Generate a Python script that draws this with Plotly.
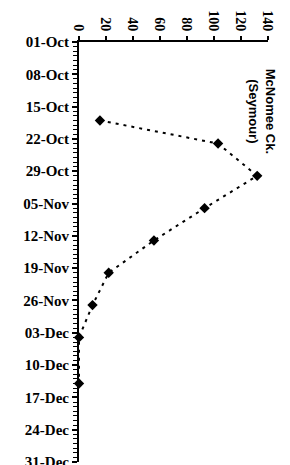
import plotly.graph_objects as go

dates = ["1999-10-18", "1999-10-23", "1999-10-30", "1999-11-06", "1999-11-13",
         "1999-11-20", "1999-11-27", "1999-12-04", "1999-12-14"]
values = [15.5, 103, 132, 93, 55.5, 22, 10, 0, 0]
title_text = "McNomee Ck.<br>(Seymour)"

font_family = "Liberation Serif"

fig = go.Figure()
fig.add_trace(go.Scatter(
    x=values, y=dates, mode="lines+markers",
    line=dict(color="black", width=2, dash="3px,5px"),
    marker=dict(symbol="diamond", size=8, color="black"),
    cliponaxis=False, showlegend=False,
))

fig.update_layout(
    width=290, height=465,
    margin=dict(l=79, r=22, t=42, b=3, autoexpand=False),
    paper_bgcolor="white", plot_bgcolor="white",
    xaxis=dict(
        side="top", range=[0, 140], dtick=20, tick0=0, automargin=False,
        showgrid=False, zeroline=False,
        showline=True, linecolor="black", linewidth=1.5,
        ticks="outside", ticklen=4, tickcolor="black", tickwidth=1.5,
        tickangle=90,
        tickfont=dict(family=font_family, size=14, color="black", weight="bold"),
    ),
    yaxis=dict(
        type="date", range=["1999-12-31", "1999-10-01"], automargin=False,
        tick0="1999-10-01", dtick=7 * 86400000, tickformat="%d-%b",
        showgrid=False, zeroline=False, ticklabeloverflow="allow",
        showline=True, linecolor="black", linewidth=2,
        ticks="outside", ticklen=5, tickcolor="black", tickwidth=1.5,
        minor=dict(dtick=86400000, ticks="outside", ticklen=4, tickcolor="black", tickwidth=1),
        tickfont=dict(family=font_family, size=15, color="black", weight="bold"),
    ),
    annotations=[dict(
        text=title_text, x=0.968, y=0.94, xref="paper", yref="paper",
        xanchor="center", yanchor="top", showarrow=False, textangle=90,
        font=dict(family="Liberation Sans", size=13, color="black", weight="bold"),
    )],
)

fig.write_html("out.html", config={"displayModeBar": False},
               post_script="document.body.style.margin='0';")
